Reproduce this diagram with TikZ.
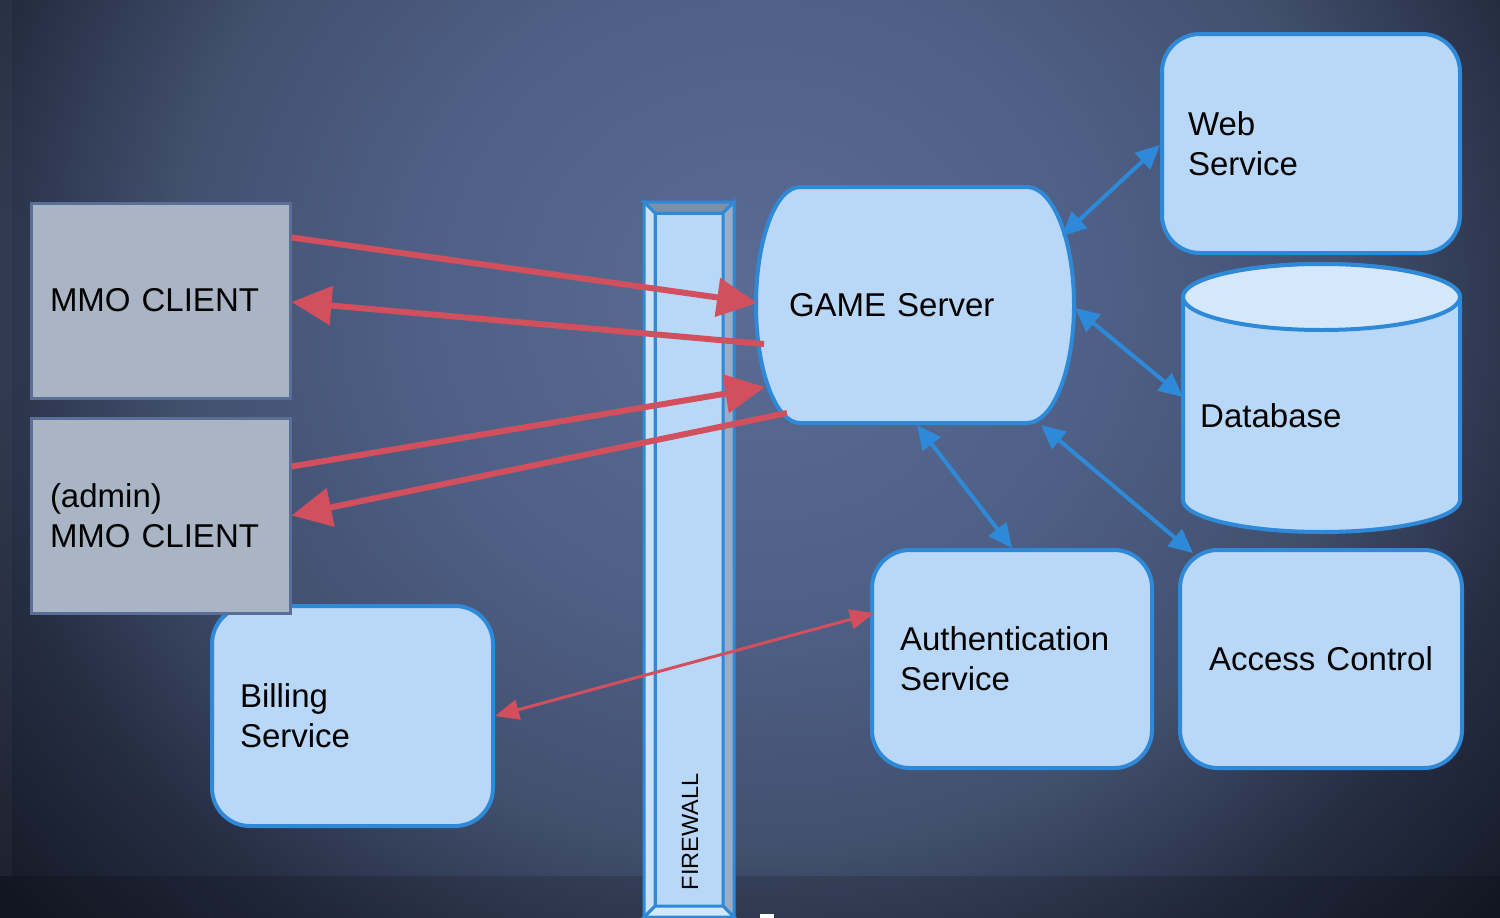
\documentclass[tikz,border=0pt]{standalone}
\usepackage{fontspec}
\setmainfont{Liberation Sans}
\usetikzlibrary{arrows.meta}
\definecolor{bgA}{HTML}{5A6C93}
\definecolor{bgB}{HTML}{4F6087}
\definecolor{bgM}{HTML}{42506E}
\definecolor{bgC}{HTML}{252D42}
\definecolor{bgD}{HTML}{10141E}
\definecolor{boxblue}{HTML}{B9D7F6}
\definecolor{edgeblue}{HTML}{2E8AD9}
\definecolor{dbtop}{HTML}{D4E7FB}
\definecolor{clientfill}{HTML}{A9B4C4}
\definecolor{clientedge}{HTML}{5B6E97}
\definecolor{arrred}{HTML}{D24F5E}
\definecolor{fwtop}{HTML}{7E8FA8}
\definecolor{fwright}{HTML}{98AEC8}
\definecolor{fwleft}{HTML}{CBE1F7}
\definecolor{fwbottom}{HTML}{D3E7FB}
\pgfdeclareradialshading{bgshade}{\pgfpoint{0bp}{0bp}}{color(0bp)=(bgA); color(8bp)=(bgB); color(14bp)=(bgM); color(19bp)=(bgC); color(25bp)=(bgD); color(50bp)=(bgD)}
\begin{document}
\begin{tikzpicture}[x=1pt,y=-1pt,
  txt/.style={font=\fontsize{33}{40}\selectfont},
  lbox/.style={txt, draw=edgeblue, fill=boxblue, line width=4pt, rounded corners=38pt, inner xsep=28pt, inner ysep=0pt, align=left},
  clientbox/.style={txt, draw=clientedge, fill=clientfill, line width=3pt, inner xsep=19pt, inner ysep=0pt, align=left, minimum width=259pt, minimum height=195pt, text width=221pt},
  fwline/.style={draw=edgeblue, line width=3pt, line join=miter},
  redbig/.style={draw=arrred, line width=6pt, -{Triangle[length=40pt,width=38pt]}},
  redthin/.style={draw=arrred, line width=3pt, {Triangle[length=24pt,width=20pt]}-{Triangle[length=24pt,width=20pt]}},
  bluearr/.style={draw=edgeblue, line width=4pt, {Triangle[length=24pt,width=22pt]}-{Triangle[length=24pt,width=22pt]}}
]
\useasboundingbox (0,0) rectangle (1500,918);
% background
\begin{scope}
\clip (0,0) rectangle (1500,918);
\shade[shading=bgshade] (760,300) ellipse [x radius=1050pt, y radius=980pt];
\fill[white, opacity=0.03] (0,0) rectangle (12,876);
\fill[black, opacity=0.15] (0,876) rectangle (1500,918);
\end{scope}

% firewall
\node[minimum width=90pt, minimum height=715pt, inner sep=0pt] (fw) at (689,559.5) {};
\path[fwline, fill=boxblue] (655,213) rectangle (723,906);
\path[fwline, fill=fwtop] (644,202) -- (734,202) -- (723,213) -- (655,213) -- cycle;
\path[fwline, fill=fwright] (734,202) -- (734,917) -- (723,906) -- (723,213) -- cycle;
\path[fwline, fill=fwbottom] (644,917) -- (734,917) -- (723,906) -- (655,906) -- cycle;
\path[fwline, fill=fwleft] (644,202) -- (655,213) -- (655,906) -- (644,917) -- cycle;
\node[rotate=90, font=\fontsize{23.5}{28}\selectfont] (fwlabel) at (690,832) {FIREWALL};
\fill[white] (760,914) rectangle (774,918);

% billing (under the admin client)
\node[lbox, minimum width=281pt, minimum height=220pt, text width=225pt] (billing) at (352.5,716) {Billing\\Service};

% clients
\node[clientbox] (mmo) at (160.5,300.5) {MMO CLIENT};
\node[clientbox] (admin) at (160.5,515.5) {(admin)\\MMO CLIENT};

% game server
\path[draw=edgeblue, fill=boxblue, line width=4pt] (800,187) -- (1027,187)
  arc[start angle=90, end angle=-90, x radius=47pt, y radius=118pt] -- (800,423)
  arc[start angle=270, end angle=90, x radius=44pt, y radius=118pt] -- cycle;
\node[txt, inner xsep=33pt, inner ysep=0pt, text width=252pt, minimum height=236pt, align=left] (game) at (915,305) {GAME Server};

% web service
\node[lbox, inner xsep=26pt, minimum width=298pt, minimum height=219pt, text width=246pt] (web) at (1311,143.5) {Web\\Service};

% database
\path[draw=edgeblue, fill=boxblue, line width=4pt] (1183,297) -- (1183,500)
  arc[start angle=180, end angle=360, x radius=138.5pt, y radius=32pt] -- (1460,297)
  arc[start angle=0, end angle=180, x radius=138.5pt, y radius=33pt] -- cycle;
\draw[edgeblue, fill=dbtop, line width=4pt] (1321.5,297) ellipse [x radius=138.5pt, y radius=33pt];
\node[txt, anchor=base west, inner sep=0pt] (db) at (1200,427) {Database};
\coordinate (dbw) at (1183,397);

% authentication and access control
\node[lbox, minimum width=280pt, minimum height=218pt, text width=224pt] (auth) at (1012,659) {Authentication\\Service};
\node[lbox, align=center, inner xsep=10pt, minimum width=282pt, minimum height=218pt, text width=262pt] (access) at (1321,659) {Access Control};

% anchor points on the game server border
\coordinate (gin1) at (757,303);
\coordinate (gout1) at (764,344);
\coordinate (gin2) at (765,387);
\coordinate (gout2) at (787,413);
\coordinate (gweb) at (1062,236);
\coordinate (gdb) at (1075,308);
\coordinate (gauth) at (917,425);
\coordinate (gacc) at (1041,425);

% red client arrows
\draw[redbig] ([yshift=-36pt]mmo.north east) -- (gin1);
\draw[redbig] (gout1) -- ([yshift=-1.5pt]mmo.east);
\draw[redbig] ([yshift=-50pt]admin.north east) -- (gin2);
\draw[redbig] (gout2) -- (admin.east);

% billing <-> authentication
\draw[redthin] (billing.east) -- ([shift={(4pt,46pt)}]auth.west);

% blue service arrows
\draw[bluearr] (gweb) -- ([yshift=-1.5pt]web.west);
\draw[bluearr] (gdb) -- (dbw);
\draw[bluearr] (gauth) -- (auth.north);
\draw[bluearr] (gacc) -- ([shift={(15pt,-5pt)}]access.north west);
\end{tikzpicture}
\end{document}
